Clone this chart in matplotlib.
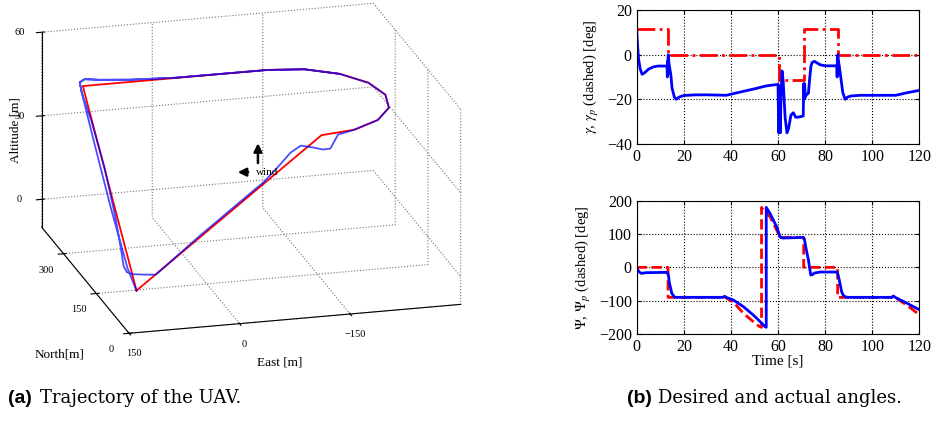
import numpy as np
import matplotlib
matplotlib.use("Agg")
import matplotlib.pyplot as plt

plt.rcParams['font.family'] = ['Liberation Serif', 'DejaVu Serif']
plt.rcParams['mathtext.fontset'] = 'stix'
plt.rcParams['grid.linestyle'] = ':'
plt.rcParams['grid.color'] = '0.45'
plt.rcParams['grid.linewidth'] = 0.8

# ---- 3D trajectory (East, North, Altitude) ----
# desired path (one loop)
ref_e = [125, 125, -126, -173, -213, -240, -249, -240, -213, -173, -126, 125]
ref_n = [50, 296, 296, 287, 260, 220, 173, 126, 86, 59, 50, 50]
ref_z = [0, 50, 50, 50, 50, 50, 50, 50, 50, 50, 50, 0]

# actual path (~1.7 loops)
uav_e = [125, 128, 130, 130, 130, 128, 120, 100, 60, 0, -126, -173, -213, -240, -249,
         -240, -213, -173, -149, -138, -128, -115, -98, -84, -66, -47, -37, 40, 99,
         115, 130, 137, 139, 137, 133, 130, 130, 130, 128, 120, 100, 60, 0, -126, -173, -213]
uav_n = [50, 80, 150, 230, 280, 300, 305, 303, 299, 297, 296, 287, 260, 220, 173,
         126, 86, 59, 52, 50, 50, 50, 50, 50, 50, 50, 50, 50, 50,
         50, 50, 54, 62, 80, 120, 180, 240, 285, 300, 305, 303, 299, 297, 296, 287, 260]
uav_z = [0, 5, 20, 37, 48, 51, 51.5, 51, 50.5, 50, 50, 50, 50, 50, 50,
         50, 50, 50, 49.5, 44.9, 44.8, 45.8, 46.9, 44.7, 39.7, 34.8, 32.9, 17.5, 5.1,
         5.5, 6, 6.5, 8, 12, 20, 32, 43, 49, 51, 51.5, 51, 50.5, 50, 50, 50, 50]

east_ticks = [150, 0, -150]
north_ticks = [0, 150, 300]
alt_ticks = [0, 30, 60]

# ---- time histories ----
t_gp = [0, 13.3, 60.5, 71, 85.3, 120]
gamma_p = [11.5, 0, -11.5, 11.5, 0, 0]

t_g = [0, 0.3, 0.8, 1.5, 2.3, 3.5, 5, 7, 9, 12.9, 13.0, 13.1, 13.2, 13.3, 13.4, 13.6,
       14.0, 14.5, 15, 16, 16.8, 18, 20, 25, 30, 38, 45, 50, 55, 60, 60.3, 60.6, 60.9,
       61.3, 61.7, 62.2, 63, 63.8, 64.5, 65.5, 66.5, 67.5, 68.5, 70.7, 70.9, 71.1, 71.3,
       71.6, 72, 72.9, 73.5, 74, 74.5, 75.5, 77.8, 80, 85, 85.1, 85.2, 85.3, 85.4, 85.5,
       86, 86.5, 87, 87.5, 88.5, 89.5, 91, 95, 110, 115, 120]
gamma = [11, 5, -2, -6.5, -8.8, -8, -6.5, -5.5, -5.1, -5.1, -10, -3, -9, -1, 0, -3,
         -6, -9, -15, -19, -20, -19, -18.3, -18, -18, -18.2, -16.5, -15.3, -14, -13.3, -35, -14, -35,
         -18, -7.3, -12, -28, -35, -33, -27, -26, -28, -28, -27.5, -13, -20, -13,
         -19, -18, -17.3, -10, -5, -3.5, -3, -4.5, -5, -5, -10, -1, -9, 0, -2,
         -5, -9, -13, -17, -20, -19, -18.5, -18.2, -18.2, -17, -16]

t_pp = [0, 13.3, 13.3, 36.5, 37, 37.6, 41, 45.3, 49.5, 52, 53, 53, 53.5, 56.6, 60.1, 60.8,
        70.9, 70.9, 85.3, 85.3, 108.3, 109, 109.7, 114.6, 119.6, 120]
psi_p = [0, 0, -90, -90, -86, -90, -104, -138, -163, -177, -180, 180, 175, 152, 102, 90,
         90, 0, 0, -90, -90, -86, -90, -113, -140, -143]

t_ps = [0, 0.5, 1.2, 2, 4, 13, 13.5, 13.9, 14.5, 14.9, 15.7, 16.3, 18, 25, 36.5, 37.3,
        38.3, 41, 45.3, 49.5, 52, 54.5, 55.0, 55.0, 56.6, 58, 59.4, 61, 62, 70.7, 71.2,
        71.8, 72.9, 73.9, 74.5, 75.5, 77.8, 85, 85.5, 86, 86.5, 87, 87.7, 88.4, 89.5, 95,
        108.3, 109, 110, 114.6, 117, 120]
psi = [0, -8, -15, -18, -16, -15, -25, -48, -65, -78, -86, -90, -90, -90, -90, -87,
       -91, -98, -118, -143, -160, -178, -180, 180, 162, 142, 122, 90, 88, 90, 85,
       60, 22, -23, -22, -17, -14, -14, -22, -38, -55, -73, -84, -88, -90, -90,
       -90, -86, -91, -107, -116, -127]

time_ticks = np.arange(0, 121, 20)

fig = plt.figure(figsize=(9.38, 4.23), dpi=100)

# (a) trajectory
ax = fig.add_axes([-0.018, 0.1143, 0.56, 0.95], projection='3d')
ax.set_proj_type('ortho')
ax.view_init(elev=19, azim=-105)
ax.plot(ref_e, ref_n, ref_z, color='red', lw=1.3)
ax.plot(uav_e, uav_n, uav_z, color='blue', lw=1.3, alpha=0.7)
ax.set_xlim(150, -300)
ax.set_ylim(0, 400)
ax.set_zlim(-10, 60)
ax.set_box_aspect((343, 337, 206), zoom=1.265)
ax.set_xticks(east_ticks)
ax.set_yticks(north_ticks)
ax.set_zticks(alt_ticks)
for axis in (ax.xaxis, ax.yaxis, ax.zaxis):
    axis.pane.fill = False
    axis.pane.set_edgecolor('none')
    axis.line.set_color('k')
    axis.line.set_linewidth(0.8)
ax.tick_params(labelsize=7.5, pad=0)
ax.set_xlabel('')
ax.set_ylabel('')
ax.set_zlabel('')

fig.text(0.016, 0.693, 'Altitude [m]', fontsize=9.5, rotation=90, ha='center', va='center')
fig.text(0.064, 0.161, 'North[m]', fontsize=9.5, ha='center', va='center')
fig.text(0.2985, 0.144, 'East [m]', fontsize=9.5, ha='center', va='center')

fig.text(0.273, 0.593, 'wind', fontsize=8, va='center')
ax.annotate('', xy=(0.275, 0.668), xytext=(0.275, 0.608), xycoords='figure fraction',
            arrowprops=dict(arrowstyle='-|>', color='k', lw=1.8, mutation_scale=12))
ax.annotate('', xy=(0.2505, 0.593), xytext=(0.2675, 0.593), xycoords='figure fraction',
            arrowprops=dict(arrowstyle='-|>', color='k', lw=1.8, mutation_scale=12))

# (b) angles
ax1 = fig.add_axes([0.6788, 0.6596, 0.3013, 0.3168])
ax1.plot(t_gp, gamma_p, color='red', lw=2, ls='-.', drawstyle='steps-post')
ax1.plot(t_g, gamma, color='blue', lw=2)
ax1.set_xlim(0, 120)
ax1.set_ylim(-40, 20)
ax1.set_yticks([-40, -20, 0, 20])
ax1.set_xticks(time_ticks)
ax1.set_ylabel(r'$\gamma$, $\gamma_p$ (dashed) [deg]', fontsize=10.5)

ax2 = fig.add_axes([0.6788, 0.2104, 0.3013, 0.3151])
ax2.plot(t_pp, psi_p, color='red', lw=2, ls='--')
ax2.plot(t_ps, psi, color='blue', lw=2)
ax2.set_xlim(0, 120)
ax2.set_ylim(-200, 200)
ax2.set_yticks([-200, -100, 0, 100, 200])
ax2.set_xticks(time_ticks)
ax2.set_xlabel('Time [s]', fontsize=11, labelpad=0)
ax2.set_ylabel(r'$\Psi$, $\Psi_p$ (dashed) [deg]', fontsize=10.5)

for a in (ax1, ax2):
    a.grid(True, color='k', ls=':', lw=0.8)
    a.tick_params(labelsize=11.5, direction='in', length=3, top=True, right=True)

fig.text(0.008, 0.059, '(a)', family='Liberation Sans', weight='bold', fontsize=14, va='center')
fig.text(0.043, 0.059, 'Trajectory of the UAV.', family='DejaVu Serif', fontsize=13, va='center')
fig.text(0.668, 0.059, '(b)', family='Liberation Sans', weight='bold', fontsize=14, va='center')
fig.text(0.7015, 0.059, 'Desired and actual angles.', family='DejaVu Serif', fontsize=13, va='center')

fig.savefig('out.png', dpi=100)
